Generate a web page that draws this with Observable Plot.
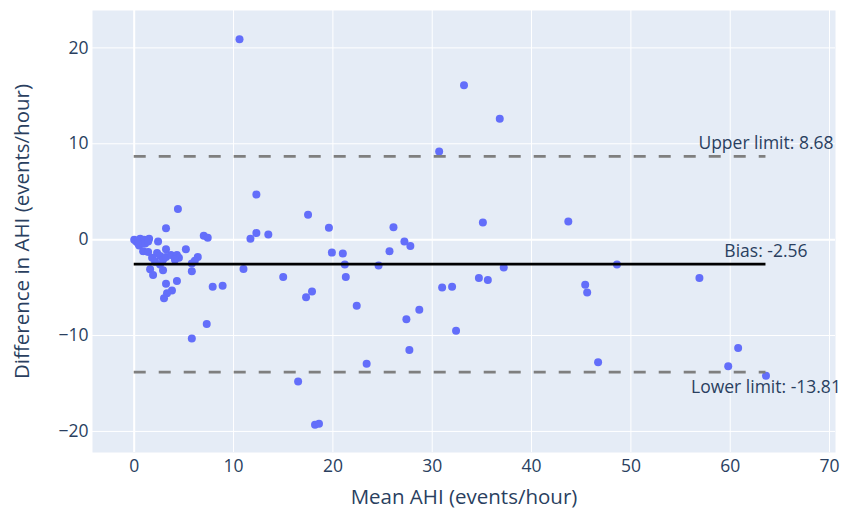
<!DOCTYPE html>
<html><head><meta charset="utf-8">
<script src="https://cdn.jsdelivr.net/npm/d3@7"></script>
<script src="https://cdn.jsdelivr.net/npm/@observablehq/plot@0.6"></script>
<style>html,body{margin:0;padding:0;background:#fff;}</style>
</head><body><div id="chart"></div>
<script>
// Bland–Altman data: mean AHI and difference in AHI (events/hour)
const meanAHI = [
  0.0, 0.2, 0.4, 0.6, 1.0, 1.5, 0.5, 1.1, 1.4, 2.4,
  0.9, 1.4, 2.3, 2.6, 1.8, 2.1, 2.9, 3.2, 3.7, 4.3,
  4.5, 4.1, 3.2, 5.2, 1.6, 1.9, 2.9, 2.6, 4.3, 3.2,
  3.8, 3.3, 3.0, 5.8, 6.4, 6.1, 5.8, 7.0, 7.4, 3.2,
  4.4, 7.9, 8.9, 7.3, 5.8, 10.6,
  12.3, 17.5, 19.6, 26.1, 11.7, 12.3, 13.5, 27.2, 27.8, 19.9,
  21.0, 25.7, 21.2, 24.6, 11.0, 21.3, 15.0, 17.9, 17.3, 22.4,
  28.7, 27.4, 27.7, 23.4, 16.5, 18.2, 18.6,
  33.2, 36.8, 30.7, 35.1, 43.7, 48.6, 37.2, 34.7, 35.6, 31.0,
  32.0, 32.4, 56.9, 45.4, 45.6, 46.7, 59.8, 60.8, 63.6
];
const diffAHI = [
  0.0, -0.2, -0.4, 0.1, 0.0, 0.1, -0.6, -0.4, -0.2, -0.2,
  -1.2, -1.3, -1.4, -1.7, -1.9, -2.3, -2.1, -1.8, -1.6, -1.6,
  -1.9, -2.1, -1.0, -1.0, -3.1, -3.7, -3.2, -2.6, -4.3, -4.6,
  -5.3, -5.6, -6.1, -3.3, -1.8, -2.2, -2.5, 0.4, 0.2, 1.2,
  3.2, -4.9, -4.8, -8.8, -10.3, 20.9,
  4.7, 2.6, 1.25, 1.3, 0.1, 0.7, 0.55, -0.2, -0.65, -1.35,
  -1.45, -1.2, -2.6, -2.7, -3.05, -3.9, -3.9, -5.4, -6.0, -6.9,
  -7.3, -8.3, -11.5, -12.95, -14.8, -19.3, -19.2,
  16.1, 12.6, 9.2, 1.8, 1.9, -2.6, -2.9, -4.0, -4.2, -5.0,
  -4.9, -9.5, -4.0, -4.7, -5.5, -12.8, -13.2, -11.3, -14.2
];
const limitNames = ["Upper limit", "Bias", "Lower limit"];
const limitValues = [8.68, -2.56, -13.81];
const xTicks = [0, 10, 20, 30, 40, 50, 60, 70];
const yTicks = [-20, -10, 0, 10, 20];
const xTitle = "Mean AHI (events/hour)";
const yTitle = "Difference in AHI (events/hour)";

const points = meanAHI.map((m, i) => ({mean: m, diff: diffAHI[i]}));
const [xMin, xMax] = d3.extent(meanAHI);
const limits = limitNames.map((n, i) => ({name: n, value: limitValues[i], label: `${n}: ${limitValues[i].toFixed(2)}`}));
const textColor = "#2a3f5f";
const minus = d => d < 0 ? "\u2212" + Math.abs(d) : String(d);

const chart = Plot.plot({
  width: 857,
  height: 510,
  marginLeft: 92,
  marginRight: 22,
  marginTop: 10,
  marginBottom: 58,
  style: {fontFamily: "'Open Sans', sans-serif", color: textColor, background: "#fff", overflow: "visible"},
  x: {domain: [-4.2, 70.6]},
  y: {domain: [-22.2, 23.9]},
  marks: [
    Plot.frame({fill: "#e5ecf6", stroke: null}),
    Plot.gridX(xTicks, {stroke: "#fff", strokeOpacity: 1, strokeWidth: 1}),
    Plot.gridY(yTicks, {stroke: "#fff", strokeOpacity: 1, strokeWidth: 1}),
    Plot.ruleX([0], {stroke: "#fff", strokeWidth: 2}),
    Plot.ruleY([0], {stroke: "#fff", strokeWidth: 2}),
    Plot.axisX(xTicks, {tickSize: 0, tickPadding: 7, fontSize: 17.5, fill: textColor, label: null}),
    Plot.axisY(yTicks, {tickSize: 0, tickPadding: 4, fontSize: 17.5, fill: textColor, label: null, tickFormat: minus}),
    Plot.text([xTitle], {frameAnchor: "bottom", dy: 45, fontSize: 20.5, fill: textColor, textAnchor: "middle", lineAnchor: "middle"}),
    Plot.text([yTitle], {frameAnchor: "left", dx: -70, rotate: -90, fontSize: 20.5, fill: textColor, textAnchor: "middle", lineAnchor: "middle"}),
    Plot.dot(points, {x: "mean", y: "diff", r: 4, fill: "#636efa", stroke: null}),
    Plot.ruleY(limits.filter(d => d.name !== "Bias"), {y: "value", x1: xMin, x2: xMax, stroke: "#7f7f7f", strokeWidth: 2.8, strokeDasharray: "12,13"}),
    Plot.ruleY(limits.filter(d => d.name === "Bias"), {y: "value", x1: xMin, x2: xMax, stroke: "#000", strokeWidth: 2.8}),
    Plot.text(limits.filter(d => d.name !== "Lower limit"), {x: xMax, y: "value", text: "label", dy: -13, fontSize: 17.5, fill: textColor, textAnchor: "middle"}),
    Plot.text(limits.filter(d => d.name === "Lower limit"), {x: xMax, y: "value", text: "label", dy: 15, fontSize: 17.5, fill: textColor, textAnchor: "middle"})
  ]
});
document.getElementById("chart").appendChild(chart);
</script>
</body></html>
